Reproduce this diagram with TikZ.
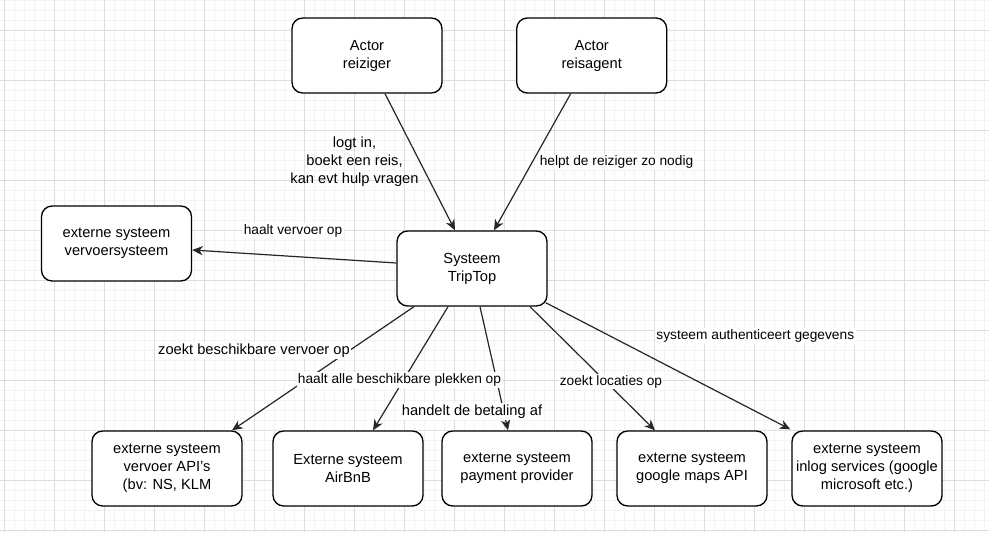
\documentclass[tikz,border=0pt]{standalone}
\usepackage{fontspec}
\setmainfont{Liberation Sans}
\usetikzlibrary{arrows.meta}
\definecolor{minorgrid}{HTML}{F3F3F3}
\definecolor{majorgrid}{HTML}{DDDDDD}
\begin{document}
\begin{tikzpicture}[x=0.75pt,y=-0.75pt,
  box/.style={draw=black,line width=1pt,fill=white,rounded corners=8pt,
    minimum width=112.5pt,minimum height=56.25pt,inner sep=0pt,align=center,
    font=\fontsize{11}{13.5}\selectfont},
  lbl/.style={fill=white,inner sep=1pt,align=center,
    font=\fontsize{10.3}{13.5}\selectfont},
  lblbig/.style={lbl,font=\fontsize{11}{13.5}\selectfont},
  conn/.style={line width=0.9pt,draw=black!85,-{Stealth[length=8pt,width=7pt,inset=2.5pt]}}]
\useasboundingbox (0,0) rectangle (989,532);
\fill[white] (0,0) rectangle (989,532);
\begin{scope}
\clip (0,0) rectangle (989,532);
\foreach \x in {4,14,...,984} \draw[minorgrid,line width=0.75pt] (\x,0) -- (\x,532);
\foreach \y in {0,10,...,530} \draw[minorgrid,line width=0.75pt] (0,\y) -- (989,\y);
\foreach \x in {4,54,...,954} \draw[majorgrid,line width=0.75pt] (\x,0) -- (\x,532);
\foreach \y in {30,80,...,530} \draw[majorgrid,line width=0.75pt] (0,\y) -- (989,\y);
\end{scope}

\node[box] (reiziger) at (367,55.5) {Actor\\reiziger};
\node[box] (agent) at (591.7,55.5) {Actor\\reisagent};
\node[box] (vervoer) at (116.5,243.5) {externe systeem\\vervoersysteem};
\node[box] (trip) at (472,268.5) {Systeem\\TripTop};
\node[box] (api) at (167,468.5) {externe systeem\\vervoer API's\\(bv: NS, KLM};
\node[box] (airbnb) at (348,468.5) {Externe systeem\\AirBnB};
\node[box] (payment) at (517,468.5) {externe systeem\\payment provider};
\node[box] (maps) at (692,468.5) {externe systeem\\google maps API};
\node[box] (inlog) at (867,468.5) {externe systeem\\inlog services (google\\microsoft etc.)};

\draw[conn] ([shift={(18,0)}]reiziger.south) -- ([shift={(-17,0)}]trip.north);
\draw[conn] ([shift={(-21,0)}]agent.south) -- ([shift={(22,0)}]trip.north);
\draw[conn] ([shift={(0,-5.5)}]trip.west) -- ([shift={(0,6.5)}]vervoer.east);
\draw[conn] ([shift={(-58,0)}]trip.south) -- ([shift={(65,0)}]api.north);
\draw[conn] ([shift={(-24,0)}]trip.south) -- ([shift={(25,0)}]airbnb.north);
\draw[conn] ([shift={(8,0)}]trip.south) -- ([shift={(-9,0)}]payment.north);
\draw[conn] ([shift={(58,0)}]trip.south) -- ([shift={(-37,0)}]maps.north);
\draw[conn] ([shift={(-2,-4)}]trip.south east) -- ([shift={(-1,-1)}]inlog.north west);

\node[lblbig,fill=none] (l1) at (354.5,162) {logt in,\\boekt een reis,\\kan evt hulp vragen};
\node[lbl] (l2) at (616.5,162) {helpt de reiziger zo nodig};
\node[lbl] (l3) at (293,231) {haalt vervoer op};
\node[lblbig] (l4) at (254,350.5) {zoekt beschikbare vervoer op};
\node[lbl] (l5) at (399.5,380) {haalt alle beschikbare plekken op};
\node[lblbig] (l6) at (472,411.5) {handelt de betaling af};
\node[lbl] (l7) at (611,381.5) {zoekt locaties op};
\node[lbl] (l8) at (755.3,336) {systeem authenticeert gegevens};
\end{tikzpicture}
\end{document}
